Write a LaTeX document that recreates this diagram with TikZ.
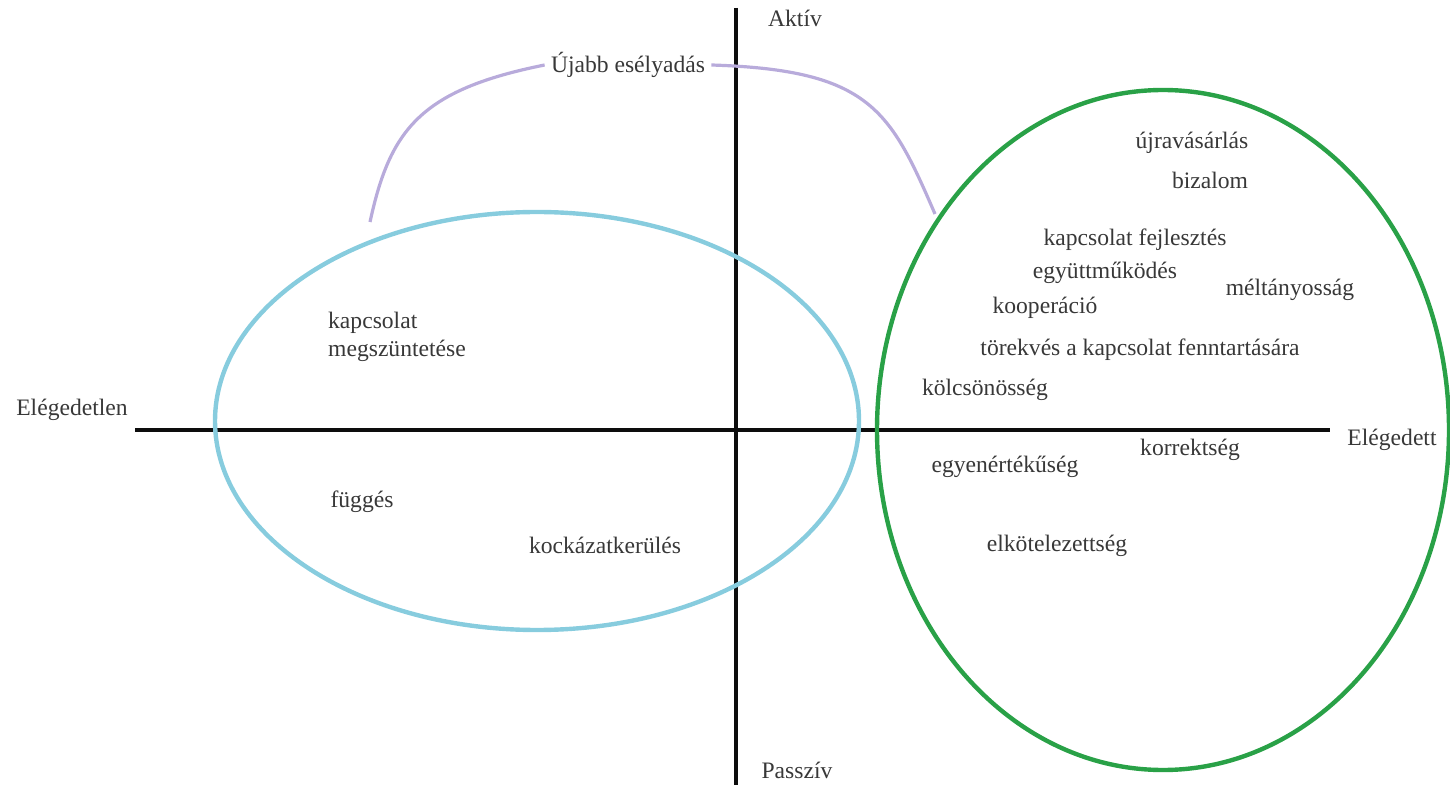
\documentclass[tikz,border=0pt]{standalone}
\usepackage{fontspec}
\setmainfont{Liberation Serif}
\usepackage{xcolor}
\definecolor{axisblack}{rgb}{0.05,0.05,0.05}
\definecolor{textgray}{rgb}{0.22,0.22,0.22}
\definecolor{lightblue}{rgb}{0.53,0.80,0.87}
\definecolor{darkgreen}{rgb}{0.16,0.63,0.28}
\definecolor{lavender}{rgb}{0.72,0.67,0.86}
\usetikzlibrary{positioning}
\tikzset{
  term/.style     ={ font=\fontsize{11.8}{14}\selectfont, text=textgray, inner sep=1pt },
  pole/.style     ={ font=\fontsize{11.8}{14}\selectfont, text=textgray, inner sep=1pt },
  axis/.style     ={ draw=axisblack, line width=2pt },
  group/.style    ={ line width=2.2pt },
  chance/.style   ={ draw=lavender, line width=1.6pt },
}

\begin{document}
\begin{tikzpicture}[x=0.5pt,y=-0.5pt]
        \useasboundingbox (0,0) rectangle (1450,785);
        % axes
        \coordinate (W) at (135,430);
        \coordinate (E) at (1330,430);
        \coordinate (N) at (736,8);
        \coordinate (S) at (736,785);
        \draw[axis] (W) -- (E);
        \draw[axis] (N) -- (S);
        \node[pole] (aktiv) at (795,18) {Aktív};
        \node[pole] (passziv) at (797,770) {Passzív};
        \node[pole] (eleg0) at (72,410) {Elégedetlen};
        \node[pole] (eleg1) at (1392,440) {Elégedett};
        % the two groups
        \draw[group,draw=lightblue] (537,421) ellipse [x radius=322, y radius=209];
        \draw[group,draw=darkgreen] (1163,430) ellipse [x radius=286, y radius=340];
        % left group
        \node[term,align=left] (megsz) at (397,337) {kapcsolat\\megszüntetése};
        \node[term] (fugges) at (362,502) {függés};
        \node[term] (kockazat) at (605,545) {kockázatkerülés};
        % right group
        \node[term] (ujravas) at (1192,143) {újravásárlás};
        \node[term] (bizalom) at (1210,180) {bizalom};
        \node[term] (fejl) at (1135,240) {kapcsolat fejlesztés};
        \node[term] (egyutt) at (1105,273) {együttműködés};
        \node[term] (melt) at (1290,290) {méltányosság};
        \node[term] (koop) at (1045,308) {kooperáció};
        \node[term] (torek) at (1140,350) {törekvés a kapcsolat fenntartására};
        \node[term] (kolcs) at (985,390) {kölcsönösség};
        \node[term] (korr) at (1190,450) {korrektség};
        \node[term] (egyen) at (1005,467) {egyenértékűség};
        \node[term] (elkot) at (1057,546) {elkötelezettség};
        % second chance
        \node[term,inner sep=3pt] (ujabb) at (628,65) {Újabb esélyadás};
        \coordinate (from) at (370,222);
        \coordinate (to) at (935,214);
        \draw[chance] (from) .. controls (390,130) and (420,90) .. (ujabb.west);
        \draw[chance] (ujabb.east) .. controls (870,70) and (890,110) .. (to);
      \end{tikzpicture}
\end{document}
